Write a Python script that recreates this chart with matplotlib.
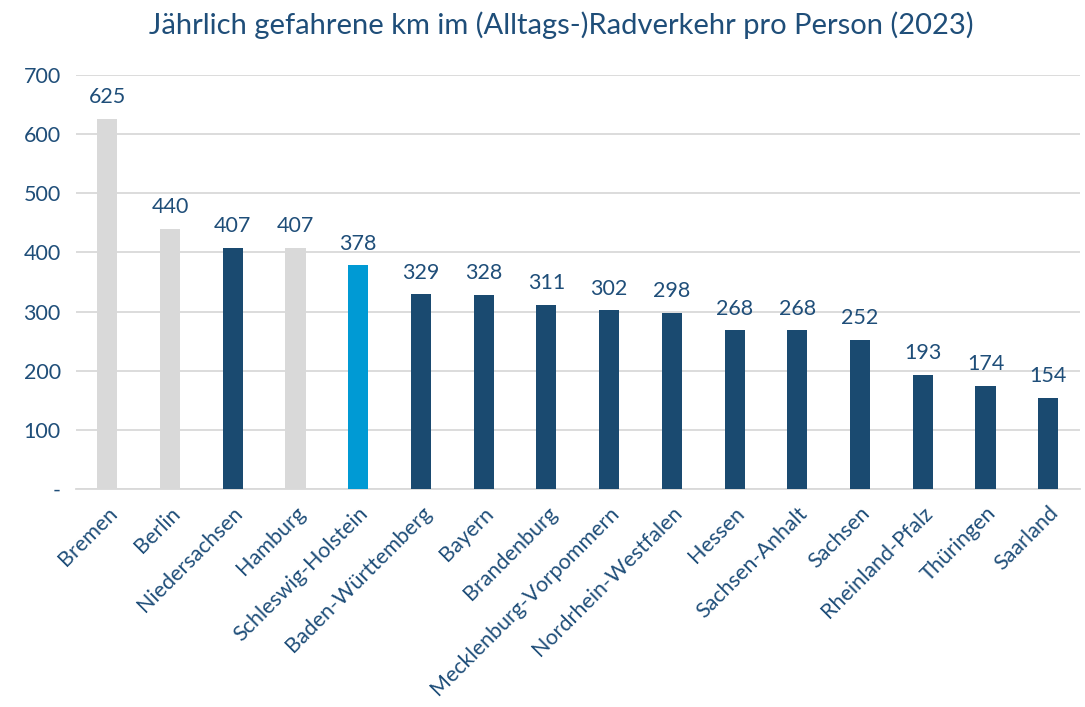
import matplotlib
matplotlib.use("Agg")
import matplotlib.pyplot as plt
from matplotlib.ticker import FuncFormatter

# data
states = ['Bremen', 'Berlin', 'Niedersachsen', 'Hamburg', 'Schleswig-Holstein',
          'Baden-Württemberg', 'Bayern', 'Brandenburg', 'Mecklenburg-Vorpommern',
          'Nordrhein-Westfalen', 'Hessen', 'Sachsen-Anhalt', 'Sachsen',
          'Rheinland-Pfalz', 'Thüringen', 'Saarland']
km_per_person = [625, 440, 407, 407, 378, 329, 328, 311, 302, 298, 268, 268, 252, 193, 174, 154]
bar_kind = ['city', 'city', 'state', 'city', 'focus', 'state', 'state', 'state',
            'state', 'state', 'state', 'state', 'state', 'state', 'state', 'state']

kind_colors = {'city': '#D9D9D9', 'state': '#1A4A70', 'focus': '#009AD4'}
text_color = '#1F4E79'

plt.rcParams['font.family'] = ['Lato', 'DejaVu Sans']

fig = plt.figure(figsize=(10.85, 7.07), dpi=100)
ax = fig.add_axes([0.070, 0.3083, 0.925, 0.5857])

x = range(len(states))
bars = ax.bar(x, km_per_person, width=0.32,
              color=[kind_colors[k] for k in bar_kind], zorder=3)

for b, v in zip(bars, km_per_person):
    ax.text(b.get_x() + b.get_width() / 2, v + 20, str(v),
            ha='center', va='bottom', fontsize=15.5, color=text_color)

ax.set_xlim(-0.5, len(states) - 0.5)
ax.set_ylim(0, 700)
ax.set_yticks(range(0, 701, 100))
ax.yaxis.set_major_formatter(FuncFormatter(lambda v, p: '-' if v == 0 else f'{int(v)}'))
ax.grid(axis='y', color='#D9D9D9', linewidth=1.3, zorder=0)

ax.set_xticks(list(x))
ax.set_xticklabels(states, rotation=45, ha='right', rotation_mode='anchor',
                   fontsize=15.5, color=text_color)
ax.tick_params(axis='y', labelsize=15.5, labelcolor=text_color, length=0, pad=11)
ax.tick_params(axis='x', length=0, pad=10)

for s in ['top', 'right', 'left']:
    ax.spines[s].set_visible(False)
ax.spines['bottom'].set_color('#D9D9D9')
ax.spines['bottom'].set_linewidth(1.3)

fig.text(0.517, 0.965, 'Jährlich gefahrene km im (Alltags-)Radverkehr pro Person (2023)',
         ha='center', va='center', fontsize=21, color=text_color)

fig.savefig('out.png', dpi=100)
